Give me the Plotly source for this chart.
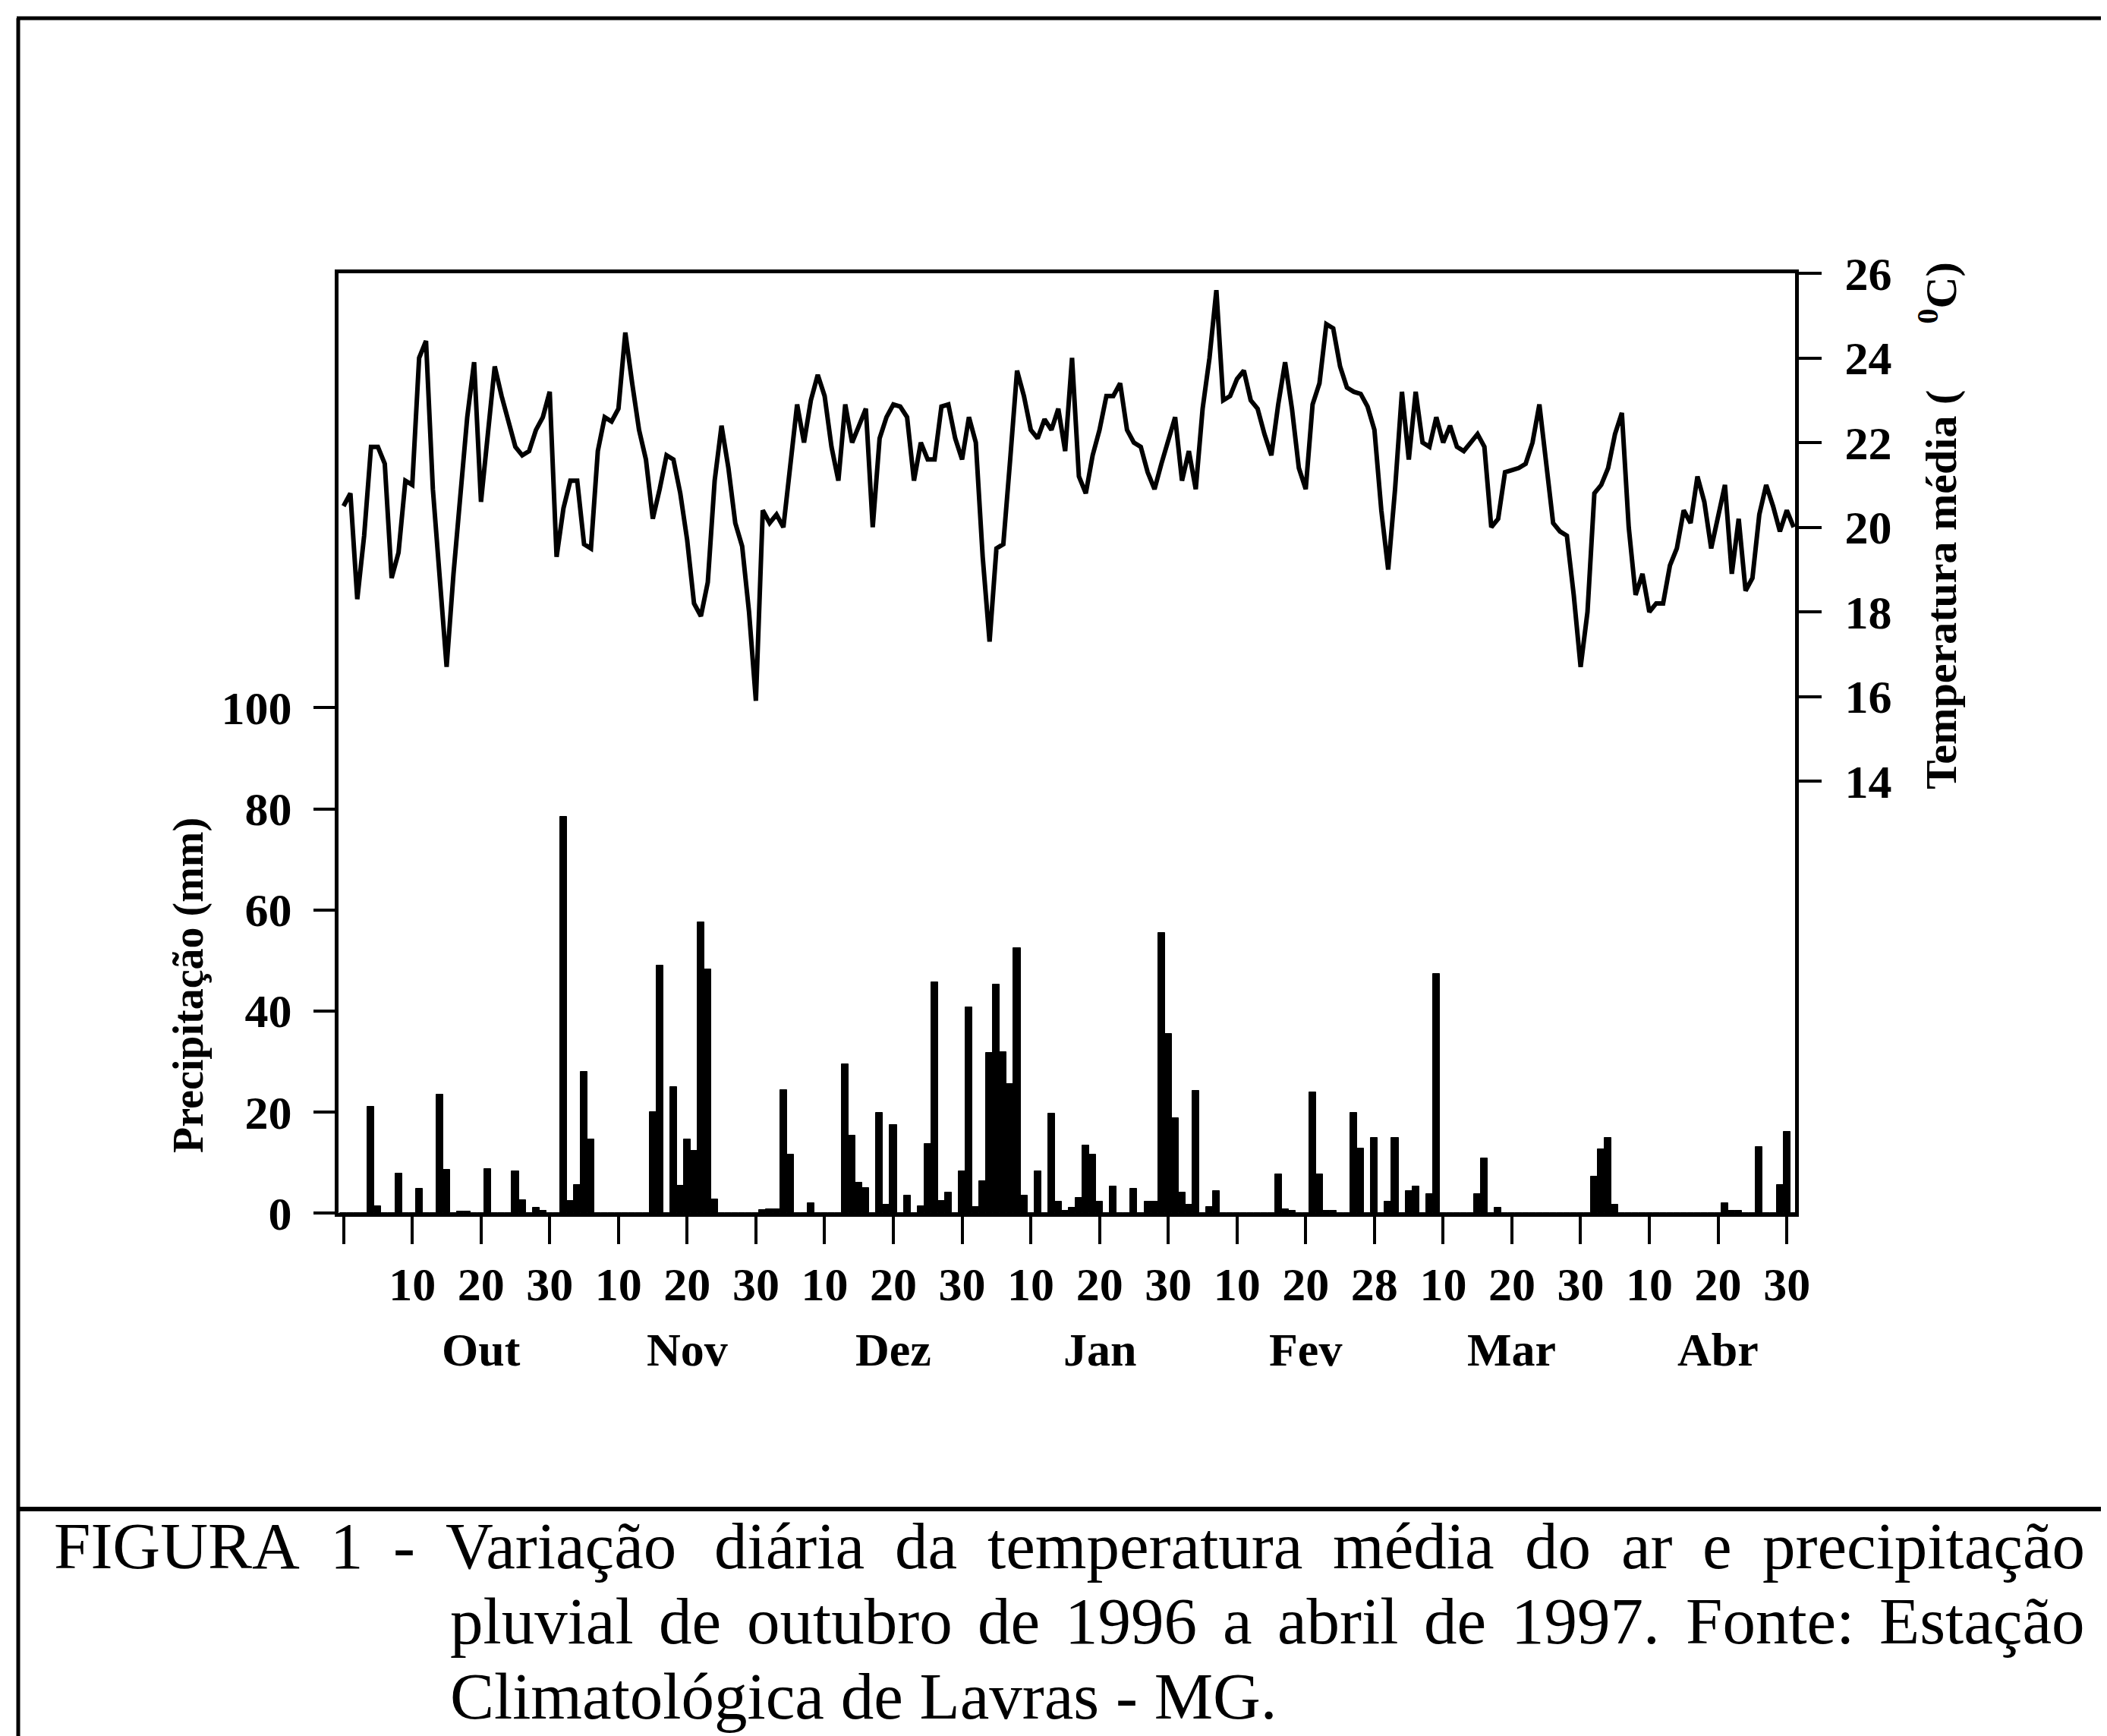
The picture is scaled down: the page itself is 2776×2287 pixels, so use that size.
import unicodedata
import plotly.graph_objects as go

# ------------------------------------------------------------------ data
months = ["Out", "Nov", "Dez", "Jan", "Fev", "Mar", "Abr"]

# daily mean air temperature (deg C), Oct 1996 .. Apr 1997
temp_out = [20.5, 20.8, 18.3, 19.8, 21.9, 21.9, 21.5, 18.8, 19.4, 21.1, 21.0,
            24.0, 24.4, 20.9, 18.8, 16.7, 18.9, 20.7, 22.6, 23.9, 20.6, 22.2,
            23.8, 23.1, 22.5, 21.9, 21.7, 21.8, 22.3, 22.6, 23.2]
temp_nov = [19.3, 20.45, 21.1, 21.1, 19.6, 19.5, 21.8, 22.6, 22.5, 22.8, 24.6,
            23.4, 22.3, 21.6, 20.2, 20.9, 21.7, 21.6, 20.8, 19.7, 18.2, 17.9,
            18.7, 21.1, 22.4, 21.4, 20.1, 19.55, 18.0, 15.9]
temp_dez = [20.4, 20.1, 20.3, 20.0, 21.5, 22.9, 22.0, 23.0, 23.6, 23.1, 21.9,
            21.1, 22.9, 22.0, 22.4, 22.8, 20.0, 22.1, 22.6, 22.9, 22.85, 22.6,
            21.1, 22.0, 21.6, 21.6, 22.85, 22.9, 22.1, 21.6, 22.6]
temp_jan = [22.0, 19.3, 17.3, 19.5, 19.6, 21.6, 23.7, 23.1, 22.3, 22.1, 22.55,
            22.3, 22.8, 21.8, 24.0, 21.2, 20.8, 21.7, 22.3, 23.1, 23.1, 23.4,
            22.3, 22.0, 21.9, 21.3, 20.9, 21.5, 22.1, 22.6, 21.1]
temp_fev = [21.8, 20.9, 22.8, 24.0, 25.6, 23.0, 23.1, 23.5, 23.7, 23.0, 22.8,
            22.2, 21.7, 22.9, 23.9, 22.8, 21.4, 20.9, 22.9, 23.4, 24.8, 24.7,
            23.8, 23.3, 23.2, 23.15, 22.85, 22.3]
temp_mar = [20.4, 19.0, 20.9, 23.2, 21.6, 23.2, 22.0, 21.9, 22.6, 22.0, 22.4,
            21.9, 21.8, 22.0, 22.2, 21.9, 20.0, 20.2, 21.3, 21.35, 21.4, 21.5,
            22.0, 22.9, 21.4, 20.1, 19.9, 19.8, 18.4, 16.7, 18.0]
temp_abr = [20.8, 21.0, 21.4, 22.2, 22.7, 20.0, 18.4, 18.9, 18.0, 18.2, 18.2,
            19.1, 19.5, 20.4, 20.1, 21.2, 20.6, 19.5, 20.3, 21.0, 18.9, 20.2,
            18.5, 18.8, 20.3, 21.0, 20.5, 19.9, 20.4, 20.0]

# daily rainfall (mm)
prec_out = [0, 0, 0, 0, 21.0, 1.3, 0, 0, 7.8, 0, 0, 4.8, 0, 0, 23.5, 8.5, 0,
            0.3, 0.3, 0, 0, 8.7, 0, 0, 0, 8.2, 2.6, 0, 1.1, 0.4, 0]
prec_nov = [0, 78.5, 2.4, 5.6, 28.0, 14.5, 0, 0, 0, 0, 0, 0, 0, 0, 20.0, 49.0,
            0, 25.0, 5.4, 14.5, 12.3, 57.5, 48.3, 2.7, 0, 0, 0, 0, 0, 0]
prec_dez = [0.6, 0.8, 0.8, 24.3, 11.5, 0, 0, 1.9, 0, 0, 0, 0, 29.5, 15.3, 6.0,
            5.0, 0, 19.9, 1.6, 17.4, 0, 3.4, 0, 1.3, 13.7, 45.7, 2.4, 4.0, 0,
            8.3, 40.7]
prec_jan = [1.2, 6.3, 31.7, 45.2, 31.9, 25.5, 52.4, 3.4, 0, 8.2, 0, 19.7, 2.3,
            0.5, 1.1, 3.0, 13.4, 11.5, 2.3, 0, 5.3, 0, 0, 4.8, 0, 2.3, 2.3,
            55.4, 35.4, 18.8, 4.0]
prec_fev = [1.6, 24.2, 0, 1.2, 4.3, 0, 0, 0, 0, 0, 0, 0, 0, 7.6, 0.8, 0.5, 0,
            0, 23.9, 7.6, 0.5, 0.5, 0, 0, 19.9, 12.8, 0, 14.9]
prec_mar = [0, 2.3, 14.9, 0, 4.4, 5.3, 0, 3.8, 47.3, 0, 0, 0, 0, 0, 3.8, 10.8,
            0, 1.1, 0, 0, 0, 0, 0, 0, 0, 0, 0, 0, 0, 0, 0]
prec_abr = [7.2, 12.6, 14.9, 1.6, 0, 0, 0, 0, 0, 0, 0, 0, 0, 0, 0, 0, 0, 0, 0,
            2.0, 0.4, 0.4, 0, 0, 13.0, 0, 0, 5.6, 16.1, 0]

tick_labels = ["10", "20", "30", "10", "20", "30", "10", "20", "30",
               "10", "20", "30", "10", "20", "28", "10", "20", "30",
               "10", "20", "30"]
month_label_pos = [20, 50, 80, 110, 140, 170, 200]
prec_ticks = [0, 20, 40, 60, 80, 100]
temp_ticks = [14, 16, 18, 20, 22, 24, 26]

caption = [
    "FIGURA 1 - Variação diária da temperatura média do ar e precipitação",
    "pluvial de outubro de 1996 a abril de 1997. Fonte: Estação",
    "Climatológica de Lavras - MG.",
]

# ------------------------------------------------------------------ build
temp = temp_out + temp_nov + temp_dez + temp_jan + temp_fev + temp_mar + temp_abr
prec = prec_out + prec_nov + prec_dez + prec_jan + prec_fev + prec_mar + prec_abr
days = list(range(len(temp)))
tick_pos = [10 * (i + 1) for i in range(len(tick_labels))]

W, H = 2776, 2287
L, R, T, B = 438, 2357, 352, 1590
FONT = "Liberation Serif, Times New Roman, serif"


def px(x):
    return (x - L) / (R - L)


def py(y):
    return (B - y) / (B - T)


# Times / Liberation Serif advance widths (1/1000 em) for caption layout
_W = {" ": 250, "-": 333, ".": 250, ":": 278, "A": 722, "C": 667, "E": 611,
      "F": 556, "G": 722, "I": 333, "L": 611, "M": 889, "R": 667, "U": 722,
      "V": 722, "a": 444, "b": 500, "c": 444, "d": 500, "e": 444, "f": 333,
      "g": 500, "h": 500, "i": 278, "l": 278, "m": 778, "n": 500, "o": 500,
      "p": 500, "r": 333, "s": 389, "t": 278, "u": 500, "v": 500}


def text_width(s, size):
    tot = 0
    for ch in s:
        base = unicodedata.normalize("NFD", ch)[0]
        tot += _W.get(base, 500)
    return tot * size / 1000.0


fig = go.Figure()
fig.add_trace(go.Bar(
    x=days, y=prec, yaxis="y",
    marker=dict(color="black", line=dict(color="black", width=1)),
    showlegend=False, hoverinfo="x+y",
))
fig.add_trace(go.Scatter(
    x=days, y=temp, yaxis="y2", mode="lines",
    line=dict(color="black", width=6),
    showlegend=False,
))

tickfont = dict(family=FONT, size=62, color="black", weight="bold")

fig.update_layout(
    width=W, height=H,
    margin=dict(l=L, r=W - R, t=T, b=H - B, pad=0),
    paper_bgcolor="white", plot_bgcolor="white",
    bargap=0,
    showlegend=False,
    font=dict(family=FONT, color="black"),
    xaxis=dict(
        range=[-0.73, 211.2], tickmode="array", tickvals=tick_pos,
        ticktext=tick_labels, ticks="outside", ticklen=36, tickwidth=4,
        tickcolor="black", showline=True, linewidth=5, linecolor="black",
        mirror=True, showgrid=False, zeroline=False, tickfont=tickfont,
        ticklabelstandoff=0,
        minor=dict(tickmode="array", tickvals=[0], ticks="outside",
                   ticklen=36, tickwidth=4, tickcolor="black",
                   showgrid=False),
    ),
    yaxis=dict(
        range=[0, 186], tickmode="array", tickvals=prec_ticks,
        ticks="outside", ticklen=28, tickwidth=4, tickcolor="black",
        showline=True, linewidth=5, linecolor="black", showgrid=False,
        zeroline=False, tickfont=tickfont, ticklabelstandoff=16,
    ),
    yaxis2=dict(
        range=[3.8, 26], overlaying="y", side="right", tickmode="array",
        tickvals=temp_ticks, ticks="outside", ticklen=30, tickwidth=4,
        tickcolor="black", showline=True, linewidth=5, linecolor="black",
        showgrid=False, zeroline=False, tickfont=tickfont,
        ticklabelstandoff=18,
    ),
)

ann = []
ann.append(dict(
    text="Precipitação (mm)", x=px(240), y=py(1290), xref="paper",
    yref="paper", textangle=-90, showarrow=False, xanchor="center",
    yanchor="middle", font=dict(family=FONT, size=56, color="black",
                                weight="bold"),
))
ann.append(dict(
    text="Temperatura média (" + "\u00a0" * 6 + "<sup>0</sup>C)",
    x=px(2545), y=py(685), xref="paper", yref="paper", textangle=-90,
    showarrow=False, xanchor="center", yanchor="middle",
    font=dict(family=FONT, size=58, color="black", weight="bold"),
))
for m, pos in zip(months, month_label_pos):
    ann.append(dict(
        text=m, x=pos, y=py(1770), xref="x", yref="paper", showarrow=False,
        xanchor="center", yanchor="middle",
        font=dict(family=FONT, size=62, color="black", weight="bold"),
    ))

# caption: first two lines justified between left edge and right edge
CAP_SIZE = 87
cap_left = [62, 584, 584]
cap_y = [2028, 2127, 2226]
cap_right = 2738
cap_justify = [True, True, False]
capfont = dict(family=FONT, size=CAP_SIZE, color="black")
for txt, cx, cy, just in zip(caption, cap_left, cap_y, cap_justify):
    if not just:
        ann.append(dict(text=txt, x=px(cx), y=py(cy), xref="paper",
                        yref="paper", showarrow=False, xanchor="left",
                        yanchor="middle", borderpad=0, font=capfont))
        continue
    words = txt.split(" ")
    widths = [text_width(w, CAP_SIZE) for w in words]
    gap = (cap_right - cx - sum(widths)) / (len(words) - 1)
    xpos = cx
    for w, wd in zip(words, widths):
        ann.append(dict(text=w, x=px(xpos), y=py(cy), xref="paper",
                        yref="paper", showarrow=False, xanchor="left",
                        yanchor="middle", borderpad=0, font=capfont))
        xpos += wd + gap
fig.update_layout(annotations=ann)

frame = dict(color="black", width=5)
shapes = [
    dict(type="line", xref="paper", yref="paper", x0=px(16), x1=px(16),
         y0=py(16), y1=py(2295), line=frame),
    dict(type="line", xref="paper", yref="paper", x0=px(14), x1=px(2776),
         y0=py(16), y1=py(16), line=frame),
    dict(type="line", xref="paper", yref="paper", x0=px(2771), x1=px(2771),
         y0=py(16), y1=py(2295), line=frame),
    dict(type="line", xref="paper", yref="paper", x0=px(14), x1=px(2776),
         y0=py(1980), y1=py(1980), line=dict(color="black", width=6)),
]
fig.update_layout(shapes=shapes)

fig.write_html("out.html")
